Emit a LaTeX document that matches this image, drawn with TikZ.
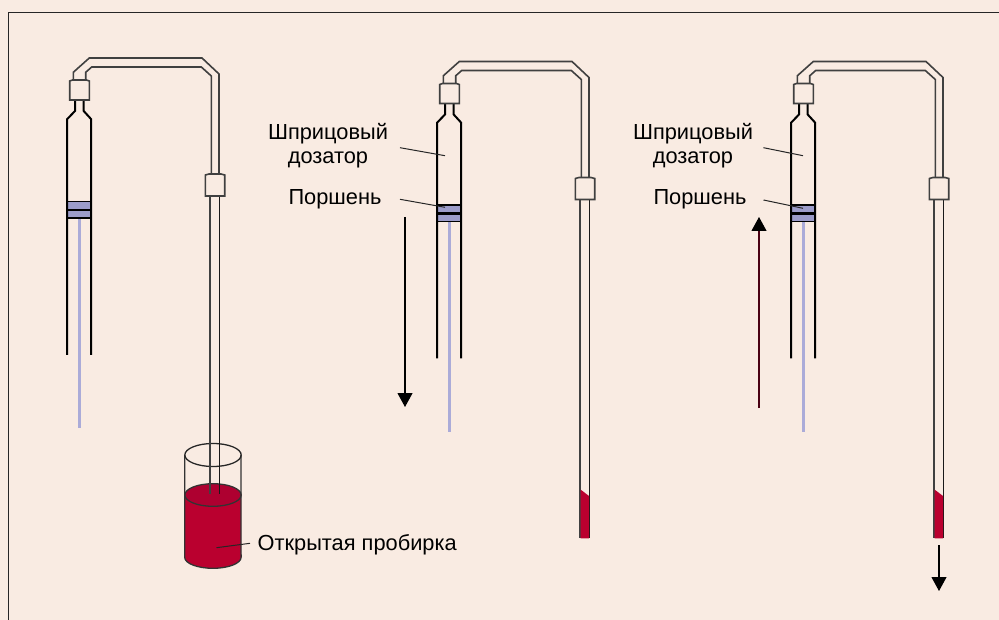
\documentclass[tikz,border=0pt]{standalone}
\usepackage{fontspec}
\setmainfont{Liberation Sans}
\usepackage{xcolor}
\usetikzlibrary{arrows.meta}
\definecolor{paper}{HTML}{F9EBE2}
\definecolor{blood}{HTML}{BA002F}
\definecolor{bloodtop}{HTML}{AE0030}
\definecolor{piston}{HTML}{9C9CC9}
\definecolor{rod}{HTML}{ABABD8}
\tikzset{
  syringewall/.style={black,line width=2pt,line join=miter},
  tubewall/.style={black!75,line width=1.6pt},
  leader/.style={black!85,line width=1pt},
  labeltext/.style={font=\fontsize{21.8}{22}\selectfont,inner sep=0pt},
  bigarrow/.style={line width=1.1pt,-{Triangle[length=14pt,width=15pt,color=black]}}
}
\begin{document}
\begin{tikzpicture}[x=1pt,y=-1pt]
    \useasboundingbox (0,0) rectangle (999,620);
    \fill[paper] (0,0) rectangle (999,620);
    \draw[black!85,line width=1.8pt] (8.5,620) -- (8.5,12.5) -- (999,12.5);
    % test tube
    \begin{scope}
      \fill[blood] (184.7,495) -- (184.7,557.3) arc[start angle=180,end angle=0,x radius=28.2,y radius=11] -- (241,495) -- cycle;
      \fill[bloodtop] (213,495) ellipse[x radius=28.2,y radius=11.3];
      \draw[black!80,line width=1.3pt] (213,495) ellipse[x radius=28.2,y radius=11.3];
      \draw[black!80,line width=1.3pt] (184.7,455) -- (184.7,557.3) arc[start angle=180,end angle=0,x radius=28.2,y radius=11] -- (241,455);
      \draw[black!85,line width=1.3pt] (213,455) ellipse[x radius=28.2,y radius=11.5];
    \end{scope}
    % three syringe units
    \foreach \dx/\dy/\tubeend in {0/0/494,370/3.5/534.8,724/3.5/534.8}{
      \begin{scope}[shift={(\dx,\dy)}]
        \draw[rod,line width=3pt] (79,218) -- (79,428);
        \fill[piston] (67,201.5) rectangle (91,218);
        \draw[black,line width=1.2pt] (67,201.5) -- (91,201.5);
        \draw[black,line width=2.2pt] (67,210) -- (91,210);
        \draw[black,line width=1.2pt] (67,218) -- (91,218);
        \draw[syringewall] (75,100) -- (75,111) -- (67,119.3) -- (67,355);
        \draw[syringewall] (83.7,100) -- (83.7,111) -- (91,119) -- (91,355);
        \draw[tubewall] (73.3,80) -- (73.3,72.3) -- (89.3,58) -- (202,58) -- (219,74) -- (219,174);
        \draw[tubewall] (85.7,80) -- (85.7,72.3) -- (91.7,67) -- (201.3,67) -- (211.3,76) -- (211.3,174);
        \draw[tubewall,fill=paper] (69.7,100) -- (69.7,81) -- (72.5,80) -- (86.5,80) -- (89.3,81) -- (89.3,100) -- cycle;
        \draw[tubewall] (210,196) -- (210,\tubeend);
        \draw[black!90,line width=1.5pt] (219.7,196) -- (219.7,\tubeend);
        \draw[tubewall,fill=paper] (205.3,196) -- (205.3,175) -- (209,174) -- (221,174) -- (224.7,175) -- (224.7,196) -- cycle;
      \end{scope}
    }
    % sample drawn into the tube
    \foreach \dx in {370,724}{
      \fill[blood] (\dx+210.5,489.5) -- (\dx+219,496) -- (\dx+219,538.3) -- (\dx+210.5,538.3) -- cycle;
    }
    % labels
    \node[labeltext] (syringeA) at (328,134) {Шприцовый};
    \node[labeltext] (dosingA) at (328,160) {дозатор};
    \node[labeltext] (plungerA) at (335,199) {Поршень};
    \node[labeltext] (syringeB) at (693,134) {Шприцовый};
    \node[labeltext] (dosingB) at (693,160) {дозатор};
    \node[labeltext] (plungerB) at (700,199) {Поршень};
    \node[labeltext,anchor=west] (vial) at (257.5,545) {Открытая пробирка};
    \draw[leader] (400,147.7) -- (445,155.7);
    \draw[leader] (400,199.3) -- (445,207.3);
    \draw[leader] (763.5,147.7) -- (803,155.7);
    \draw[leader] (763.5,200) -- (803,208.3);
    \draw[leader] (250,543.3) -- (216.5,547.7);
    % arrows
    \draw[bigarrow] (405,217) -- (405,407);
    \draw[bigarrow,black!60!blood] (759,408) -- (759,217);
    \draw[bigarrow] (939,545) -- (939,591);
\end{tikzpicture}
\end{document}
